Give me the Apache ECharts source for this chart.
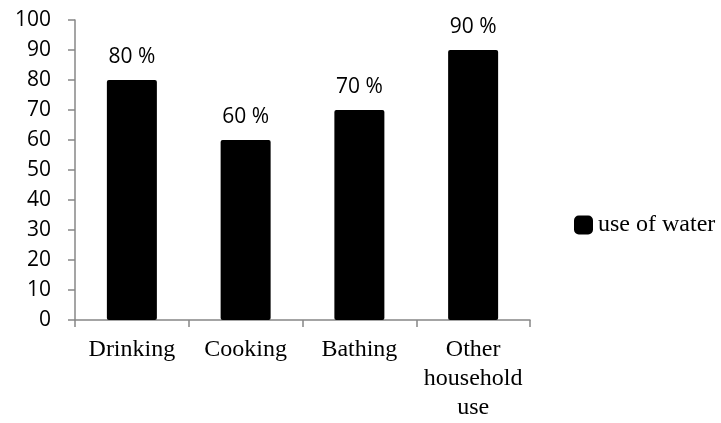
<!DOCTYPE html>
<html>
<head>
<meta charset="utf-8">
<script src="https://cdn.jsdelivr.net/npm/echarts@6/dist/echarts.min.js"></script>
<style>
  html, body { margin: 0; padding: 0; background: #fff; }
  #chart { width: 721px; height: 423px; }
</style>
</head>
<body>
<div id="chart"></div>
<script>
// Share of households per water use (%)
const categories = ['Drinking', 'Cooking', 'Bathing', 'Other\nhousehold\nuse'];
const useOfWater = [80, 60, 70, 90];
const seriesName = 'use of water';

const axisGray = '#878787';
const sansFont = '"Open Sans", "Noto Sans", sans-serif';
const serifFont = '"Liberation Serif", serif';

const chart = echarts.init(document.getElementById('chart'), null, { renderer: 'canvas' });
chart.setOption({
  animation: false,
  backgroundColor: '#ffffff',
  grid: { left: 75, right: 191, top: 20, bottom: 103, containLabel: false },
  legend: {
    left: 569, top: 208,
    itemWidth: 19, itemHeight: 19, itemGap: 0,
    icon: 'roundRect',
    textStyle: { fontFamily: serifFont, fontSize: 24, color: '#000' },
    data: [seriesName]
  },
  xAxis: {
    type: 'category',
    data: categories,
    axisLine: { lineStyle: { color: axisGray, width: 1.5 } },
    axisTick: { show: true, length: 7, lineStyle: { color: axisGray, width: 1.5 } },
    axisLabel: { interval: 0, margin: 15, fontFamily: serifFont, fontSize: 24, color: '#000', lineHeight: 29 }
  },
  yAxis: {
    type: 'value',
    min: 0, max: 100, interval: 10,
    axisLine: { show: true, lineStyle: { color: axisGray, width: 1.5 } },
    axisTick: { show: true, length: 7, lineStyle: { color: axisGray, width: 1.5 } },
    splitLine: { show: false },
    axisLabel: { margin: 24, fontFamily: sansFont, fontSize: 21, color: '#000' }
  },
  series: [{
    name: seriesName,
    type: 'bar',
    data: useOfWater,
    barWidth: 50,
    itemStyle: { color: '#000', borderRadius: 2 },
    label: {
      show: true, position: 'top', distance: 12,
      formatter: p => p.value + ' %',
      fontFamily: sansFont, fontSize: 21, color: '#000'
    }
  }]
});
</script>
</body>
</html>
